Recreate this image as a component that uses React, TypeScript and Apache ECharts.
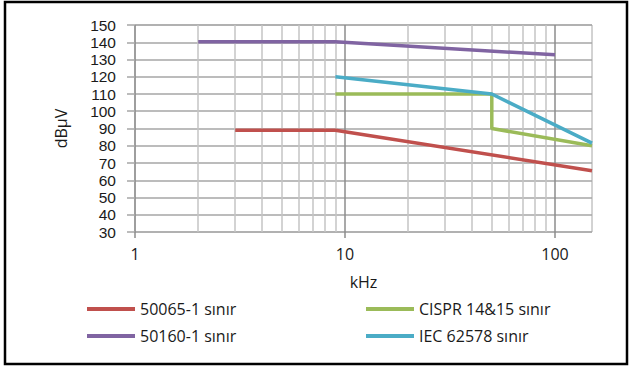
import React, { useEffect, useRef } from "react";
import * as echarts from "echarts";

const seriesNames = ["50065-1 sınır", "50160-1 sınır", "CISPR 14&15 sınır", "IEC 62578 sınır"];
const seriesColors = ["#c0504d", "#8064a2", "#9bbb59", "#4bacc6"];

const freq50065 = [3, 9, 150];
const level50065 = [89, 89, 65.5];

const freq50160 = [2, 9, 100];
const level50160 = [140.3, 140.3, 132.7];

const freqCispr = [9, 50, 50, 150];
const levelCispr = [110, 110, 90, 80];

const freqIec = [9, 50, 150];
const levelIec = [120, 110, 81.5];

const minorGridFreqs = [2, 3, 4, 5, 6, 7, 8, 9, 20, 30, 40, 50, 60, 70, 80, 90];
const majorTicks = [1, 10, 100];

const zip = (xs: number[], ys: number[]) => xs.map((x, i) => [x, ys[i]]);

const FONT = "'Open Sans', 'Liberation Sans', sans-serif";
const YFONT = "'Liberation Sans', Arial, sans-serif";
const TEXT = "#1a1a1a";

export default function App() {
  const ref = useRef<HTMLDivElement>(null);
  useEffect(() => {
    if (!ref.current) return;
    const chart = echarts.init(ref.current, undefined, { renderer: "svg" });
    const lineSeries = [
      zip(freq50065, level50065),
      zip(freq50160, level50160),
      zip(freqCispr, levelCispr),
      zip(freqIec, levelIec),
    ].map((data, i) => ({
      name: seriesNames[i],
      type: "line",
      data,
      showSymbol: false,
      symbol: "none",
      color: seriesColors[i],
      lineStyle: { width: 3.5, color: seriesColors[i] },
      emphasis: { disabled: true },
      z: 5,
    }));
    const legendBase = {
      orient: "vertical",
      top: 301,
      padding: 0,
      icon: "rect",
      itemWidth: 48,
      itemHeight: 4,
      itemGap: 11,
      selectedMode: false,
      textStyle: { fontSize: 16, color: TEXT, fontFamily: FONT, lineHeight: 16 },
    };
    chart.setOption({
      animation: false,
      textStyle: { fontFamily: FONT },
      grid: {
        left: 135,
        right: 41,
        top: 25,
        bottom: 135,
        show: true,
        borderColor: "#a6a6a6",
        borderWidth: 1,
      },
      xAxis: {
        type: "log",
        logBase: 10,
        min: 1,
        max: 150,
        name: "kHz",
        nameLocation: "middle",
        nameGap: 42,
        nameTextStyle: { fontSize: 16, color: TEXT, fontFamily: FONT },
        axisLine: { show: false },
        axisTick: {
          show: true,
          length: 6,
          customValues: majorTicks,
          lineStyle: { color: "#8c8c8c", width: 1.5 },
        },
        axisLabel: {
          fontSize: 16,
          color: TEXT,
          fontFamily: FONT,
          margin: 14,
          customValues: majorTicks,
          formatter: (v: number) => String(Math.round(v)),
        },
        splitLine: { show: true, lineStyle: { color: "#8c8c8c", width: 1.5 } },
      },
      yAxis: {
        type: "value",
        min: 30,
        max: 150,
        interval: 10,
        name: "dBµV",
        nameLocation: "middle",
        nameGap: 66,
        nameTextStyle: { fontSize: 16, color: TEXT, fontFamily: FONT },
        axisLine: { show: false },
        axisTick: { show: true, length: 8, lineStyle: { color: "#a6a6a6", width: 1.5 } },
        axisLabel: { fontSize: 15.5, lineHeight: 15, color: TEXT, fontFamily: YFONT, margin: 19 },
        splitLine: { show: true, lineStyle: { color: "#a6a6a6", width: 1.5 } },
      },
      legend: [
        { ...legendBase, data: [seriesNames[0], seriesNames[1]], left: 87 },
        { ...legendBase, data: [seriesNames[2], seriesNames[3]], left: 366 },
      ],
      graphic: [
        {
          type: "rect",
          shape: { x: 5, y: 2, width: 622, height: 362 },
          style: { fill: "none", stroke: "#000", lineWidth: 2.5 },
          silent: true,
        },
      ],
      series: [
        {
          name: "grid",
          type: "line",
          data: [],
          silent: true,
          z: 1,
          markLine: {
            silent: true,
            symbol: "none",
            label: { show: false },
            lineStyle: { color: "#c4c4c4", width: 1.5, type: "solid" },
            emphasis: { disabled: true },
            data: minorGridFreqs.map((f) => ({ xAxis: f })),
          },
        },
        ...lineSeries,
      ],
    });
    return () => chart.dispose();
  }, []);
  return (
    <div
      ref={ref}
      style={{ position: "fixed", left: 0, top: 0, width: 633, height: 367, background: "#fff" }}
    />
  );
}
